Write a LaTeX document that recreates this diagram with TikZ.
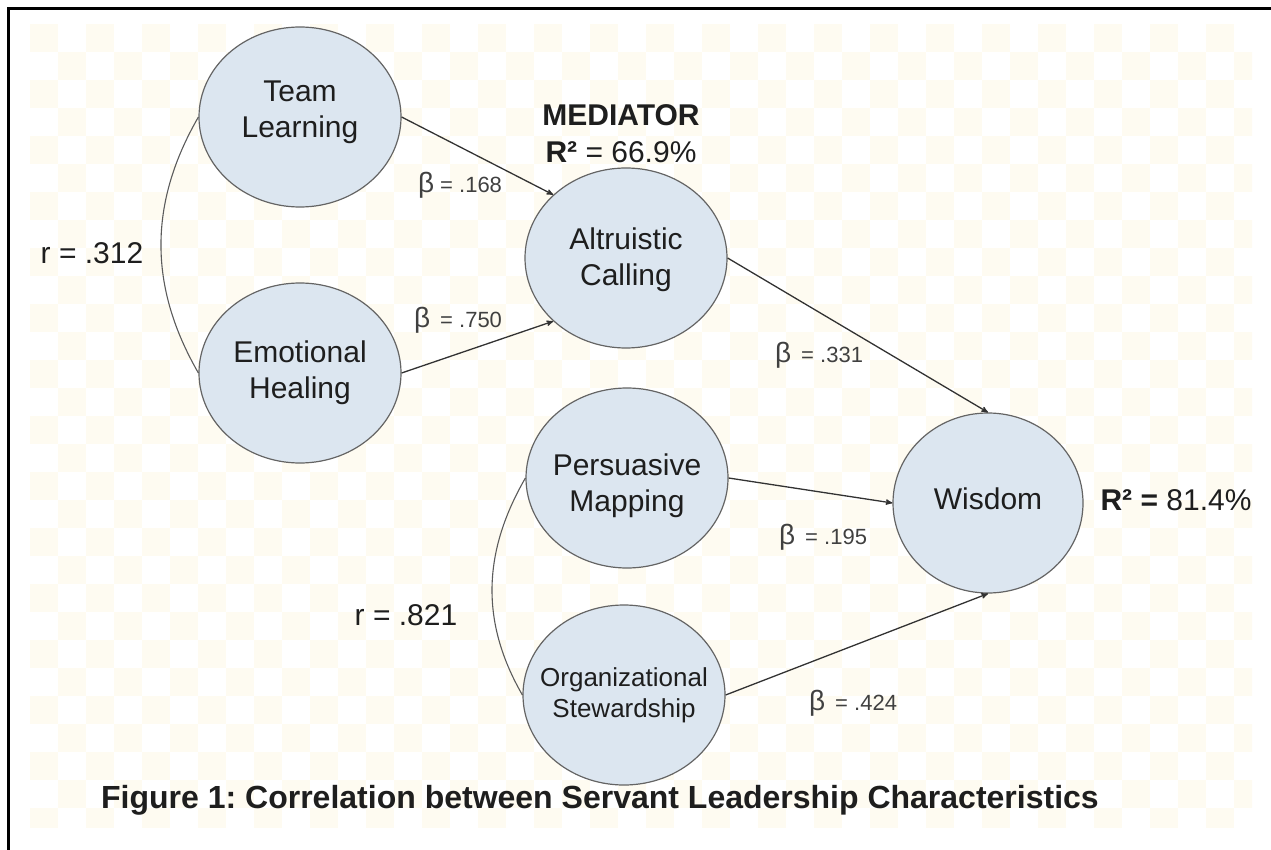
\documentclass[tikz,border=0pt]{standalone}
\usepackage{fontspec}
\setmainfont{Liberation Sans}
\usetikzlibrary{arrows,shapes.geometric}

\definecolor{factorfill}{RGB}{220,230,240}
\definecolor{factorline}{RGB}{100,100,100}
\definecolor{pathline}{RGB}{50,50,50}
\definecolor{checker}{RGB}{254,251,241}
\definecolor{txt}{RGB}{30,30,30}
\newcommand{\setfs}[2]{\fontsize{#1}{#2}\selectfont}
\frenchspacing

\begin{document}
\begin{tikzpicture}[->,>=stealth',x=1pt,y=1pt,
    factor/.style={ellipse,
          draw = factorline,
          line width = 1.2pt,
          fill = factorfill,
          minimum width = 202,
          minimum height = 180},
    flabel/.style={text = txt, align = center, font = \setfs{30}{36}},
    coef/.style={text = txt!85, font = \setfs{22}{26}}]

    \useasboundingbox (0,0) rectangle (1271,-850);

    % faint checkered background
    \begin{scope}
    \clip (30,-24) rectangle (1252,-827);
    \foreach \i in {0,...,43}{
      \foreach \j in {0,...,28}{
        \pgfmathparse{int(mod(\i+\j,2))}
        \ifnum\pgfmathresult=0
          \fill[checker] (30+28*\i,-24-28*\j) rectangle ++(28,-28);
        \fi
      }
    }
    \end{scope}

    % frame, top and left only
    \draw[-, line width = 3pt] (8.5,-850) -- (8.5,-8.5) -- (1271,-8.5);

    \node[factor] (team) at (300,-117) {};
    \node[flabel] (teamtxt) at ([yshift=5]team.center) {Team\\Learning};

    \node[factor] (emo) at (300,-373) {};
    \node[flabel] (emotxt) at (emo.center) {Emotional\\Healing};

    \node[factor] (alt) at (626,-258) {};
    \node[flabel] (alttxt) at ([yshift=-2]alt.center) {Altruistic\\Calling};

    \node[factor] (pm) at (627,-478) {};
    \node[flabel] (pmtxt) at ([yshift=-8]pm.center) {Persuasive\\Mapping};

    \node[factor] (os) at (624,-695) {};
    \node[flabel, font = \setfs{26}{31}] (ostxt) at (os.center) {Organizational\\Stewardship};

    \node[factor, minimum width = 190] (wis) at (988,-503) {};
    \node[flabel] (wistxt) at ([yshift=4]wis.center) {Wisdom};

    % mediator and R squared
    \node[flabel] (medtitle) at (621,-115) {\bfseries MEDIATOR};
    \node[flabel] (medr2) at (621,-152) {\textbf{R²} = 66.9\%};
    \node[flabel] (wisr2) at (1176,-500) {\textbf{R² =} 81.4\%};

    % correlations
    \draw[-, draw = pathline!80, line width = 1.1pt] (team.west) to[out=240,in=120] (emo.west);
    \draw[-, draw = pathline!80, line width = 1.1pt] (pm.west) to[out=240,in=120] (os.west);
    \node[flabel] (r312) at (92,-253) {r = .312};
    \node[flabel] (r821) at (406,-615) {r = .821};

    \path[every edge/.append style={draw = pathline, line width = 1.3pt}]
    (team.east) edge [] (alt.139)
    (emo.east) edge [] (alt.221)
    (alt.east) edge [] (wis.north)
    (pm.east) edge [] (wis.west)
    (os.east) edge [] (wis.south);

    \node[coef] (b168) at (460,-185) {{\setfs{28}{28}β} = .168};
    \node[coef] (b750) at (458,-320) {{\setfs{28}{28}β}\hspace{4pt} = .750};
    \node[coef] (b331) at (819,-355) {{\setfs{28}{28}β}\hspace{4pt} = .331};
    \node[coef] (b195) at (823,-537) {{\setfs{28}{28}β}\hspace{4pt} = .195};
    \node[coef] (b424) at (853,-703) {{\setfs{28}{28}β}\hspace{4pt} = .424};

    \node[flabel, font = \setfs{32}{36}\bfseries] (figcap) at (600,-800)
      {Figure 1: Correlation between Servant Leadership Characteristics};

\end{tikzpicture}
\end{document}
